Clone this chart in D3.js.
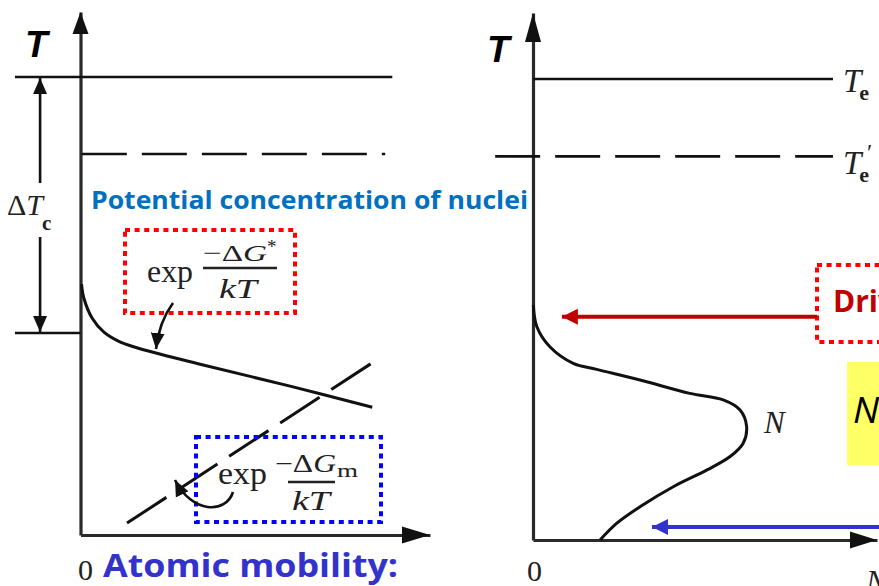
<!DOCTYPE html>
<html>
<head>
<meta charset="utf-8">
<script src="https://cdn.jsdelivr.net/npm/d3@7"></script>
<style>
    body { margin: 0; background: #fff; }
    svg { display: block; }
    .serif { font-family: "Liberation Serif", "DejaVu Serif", serif; }
    .bold-sans { font-family: "Open Sans", "Noto Sans", sans-serif; font-weight: bold; }
</style>
</head>
<body>
<div id="chart"></div>
<script>
// Temperature levels, in units where Te = 10
const tempLevels = [
    { name: "Te", T: 10, dashed: false },
    { name: "Te'", T: 8.32, dashed: true }
];
// temperature where nucleation starts (Te - ΔTc)
const criticalT = 4.41;

// potential concentration of nuclei, exp(-ΔG*/kT): [x, T]
const nucleiConc = [
    [0.03, 5.48], [0.10, 5.17], [0.34, 4.74], [0.69, 4.43], [1.10, 4.24],
    [1.61, 4.10], [3.52, 3.73], [6.17, 3.25], [8.59, 2.79]
];
// atomic mobility, exp(-ΔGm/kT): [x, T]
const atomicMobility = [[1.37, 0.26], [8.59, 3.76]];

// nucleation rate N: [x, T]
const nucleationRate = [
    [0.01, 5.10], [0.11, 4.63], [0.49, 4.19], [1.17, 3.83], [1.85, 3.70],
    [3.11, 3.47], [4.56, 3.18], [5.53, 3.04], [6.02, 2.82], [6.21, 2.46],
    [6.11, 2.10], [5.73, 1.81], [5.06, 1.52], [4.09, 1.16], [3.11, 0.72],
    [2.43, 0.36], [1.95, 0]
];

// x extents of the temperature lines (left panel / right panel)
const leftLineSpan = { "Te": [-1.93, 9.18], "Te'": [0.04, 8.97] };
const rightLineSpan = { "Te": [0, 8.72], "Te'": [-1.10, 8.72] };

const W = 879, H = 586;
const svg = d3.select("#chart").append("svg")
    .attr("width", W).attr("height", H);
svg.append("rect").attr("width", W).attr("height", H).attr("fill", "#fff");

const defs = svg.append("defs");
function marker(id, color, len, half) {
    defs.append("marker")
        .attr("id", id)
        .attr("markerUnits", "userSpaceOnUse")
        .attr("markerWidth", len + 2).attr("markerHeight", half * 2 + 2)
        .attr("refX", len).attr("refY", half + 1)
        .attr("orient", "auto")
        .append("path")
        .attr("d", `M0,1 L${len},${half + 1} L0,${half * 2 + 1} Z`)
        .attr("fill", color);
}
marker("headBlack", "#111", 16, 7);
marker("headRed", "#c00000", 16, 8);
marker("headBlue", "#3333cc", 16, 8);

// ---------- scales ----------
const xL = d3.scaleLinear().domain([0, 10.29]).range([80.5, 430]);
const yL = d3.scaleLinear().domain([0, 11.42]).range([535, 12]);
const xR = d3.scaleLinear().domain([0, 10]).range([533, 877]);
const yR = d3.scaleLinear().domain([0, 11.43]).range([540, 13]);

// axes without ticks, plus triangle arrowheads
function drawAxes(g, x, y, yHead, xHead) {
    const [x0] = x.range(), [y0, yTop] = y.range(), xEnd = x.range()[1];
    g.append("g").attr("transform", `translate(${x0},0)`)
        .call(d3.axisLeft(y).tickValues([]).tickSizeOuter(0))
        .select(".domain").attr("stroke", "#2a2a2a").attr("stroke-width", 3.2);
    g.append("g").attr("transform", `translate(0,${y0})`)
        .call(d3.axisBottom(x).tickValues([]).tickSizeOuter(0))
        .select(".domain").attr("stroke", "#2a2a2a").attr("stroke-width", 3.2);
    g.append("path")
        .attr("d", `M${x0},${yTop} L${x0 - 8},${yTop + yHead} L${x0 + 8},${yTop + yHead} Z`)
        .attr("fill", "#111");
    g.append("path")
        .attr("d", `M${xEnd},${y0} L${xEnd - xHead},${y0 - 8.5} L${xEnd - xHead},${y0 + 8.5} Z`)
        .attr("fill", "#111");
}

const left = svg.append("g");
const right = svg.append("g");
drawAxes(left, xL, yL, 22, 28);
drawAxes(right, xR, yR, 29, 27);

// ---------- temperature lines ----------
tempLevels.forEach(t => {
    const sl = leftLineSpan[t.name], sr = rightLineSpan[t.name];
    left.append("line")
        .attr("x1", xL(sl[0])).attr("x2", xL(sl[1]))
        .attr("y1", yL(t.T)).attr("y2", yL(t.T))
        .attr("stroke", "#111").attr("stroke-width", 2.6)
        .attr("stroke-dasharray", t.dashed ? "45,15" : null);
    right.append("line")
        .attr("x1", xR(sr[0])).attr("x2", xR(sr[1]))
        .attr("y1", yR(t.T)).attr("y2", yR(t.T))
        .attr("stroke", "#111").attr("stroke-width", 2.6)
        .attr("stroke-dasharray", t.dashed ? "45,15" : null);
});

// ΔTc dimension line
const dimX = xL(-1.19);
left.append("line")
    .attr("x1", xL(-1.93)).attr("x2", xL(0))
    .attr("y1", yL(criticalT)).attr("y2", yL(criticalT))
    .attr("stroke", "#111").attr("stroke-width", 2.6);
left.append("line")
    .attr("x1", dimX).attr("x2", dimX)
    .attr("y1", 183).attr("y2", yL(10) + 1)
    .attr("stroke", "#111").attr("stroke-width", 2.6)
    .attr("marker-end", "url(#headBlack)");
left.append("line")
    .attr("x1", dimX).attr("x2", dimX)
    .attr("y1", 237).attr("y2", yL(criticalT) - 1)
    .attr("stroke", "#111").attr("stroke-width", 2.6)
    .attr("marker-end", "url(#headBlack)");

const dT = left.append("text").attr("class", "serif").attr("x", 7).attr("y", 215)
    .attr("font-size", 30).attr("fill", "#222");
dT.append("tspan").text("Δ");
dT.append("tspan").attr("font-style", "italic").text("T");
dT.append("tspan").attr("font-size", 21).attr("font-weight", "bold").attr("dy", 15).attr("dx", -1).text("c");

// ---------- curves ----------
const lineL = d3.line().x(d => xL(d[0])).y(d => yL(d[1])).curve(d3.curveCatmullRom.alpha(0.5));
left.append("path").datum(nucleiConc)
    .attr("d", lineL).attr("fill", "none")
    .attr("stroke", "#111").attr("stroke-width", 3);
left.append("path").datum(atomicMobility)
    .attr("d", d3.line().x(d => xL(d[0])).y(d => yL(d[1])))
    .attr("fill", "none").attr("stroke", "#111").attr("stroke-width", 3)
    .attr("stroke-dasharray", "47,14");

const lineR = d3.line().x(d => xR(d[0])).y(d => yR(d[1])).curve(d3.curveCatmullRom.alpha(0.5));
right.append("path").datum(nucleationRate)
    .attr("d", lineR).attr("fill", "none")
    .attr("stroke", "#111").attr("stroke-width", 3);

// ---------- annotation boxes (left) ----------
left.append("rect")
    .attr("x", 125).attr("y", 230).attr("width", 170).attr("height", 83)
    .attr("fill", "none").attr("stroke", "#ff0000").attr("stroke-width", 4)
    .attr("stroke-dasharray", "5,4.6");
left.append("rect")
    .attr("x", 196).attr("y", 437).attr("width", 185).attr("height", 85)
    .attr("fill", "none").attr("stroke", "#0000ff").attr("stroke-width", 4)
    .attr("stroke-dasharray", "5,4.6");

// exp(-ΔG*/kT)
const f1 = left.append("g").attr("class", "serif").attr("fill", "#222");
f1.append("text").attr("x", 147).attr("y", 282).attr("font-size", 31)
    .attr("textLength", 46).attr("lengthAdjust", "spacingAndGlyphs").text("exp");
const n1 = f1.append("text").attr("x", 203).attr("y", 261).attr("font-size", 24)
    .attr("textLength", 64).attr("lengthAdjust", "spacingAndGlyphs");
n1.append("tspan").text("−Δ");
n1.append("tspan").attr("font-style", "italic").text("G");
f1.append("text").attr("x", 267).attr("y", 253).attr("font-size", 19).text("*");
f1.append("line").attr("x1", 203).attr("x2", 277).attr("y1", 268).attr("y2", 268)
    .attr("stroke", "#222").attr("stroke-width", 2.5);
f1.append("text").attr("x", 219).attr("y", 298).attr("font-size", 27).attr("font-style", "italic")
    .attr("textLength", 38).attr("lengthAdjust", "spacingAndGlyphs").text("kT");

// exp(-ΔGm/kT)
const f2 = left.append("g").attr("class", "serif").attr("fill", "#222");
f2.append("text").attr("x", 218).attr("y", 484).attr("font-size", 31)
    .attr("textLength", 49).attr("lengthAdjust", "spacingAndGlyphs").text("exp");
const n2 = f2.append("text").attr("x", 275).attr("y", 472).attr("font-size", 25)
    .attr("textLength", 61).attr("lengthAdjust", "spacingAndGlyphs");
n2.append("tspan").text("−Δ");
n2.append("tspan").attr("font-style", "italic").text("G");
f2.append("text").attr("x", 337).attr("y", 477).attr("font-size", 19)
    .attr("textLength", 21).attr("lengthAdjust", "spacingAndGlyphs").text("m");
f2.append("line").attr("x1", 288).attr("x2", 335).attr("y1", 482).attr("y2", 482)
    .attr("stroke", "#222").attr("stroke-width", 2.5);
f2.append("text").attr("x", 292).attr("y", 510).attr("font-size", 28).attr("font-style", "italic")
    .attr("textLength", 38).attr("lengthAdjust", "spacingAndGlyphs").text("kT");

// pointer arrows
left.append("path").attr("d", "M173,303 Q159,322 156,349")
    .attr("fill", "none").attr("stroke", "#111").attr("stroke-width", 2.6)
    .attr("marker-end", "url(#headBlack)");
left.append("path").attr("d", "M233,492 C226,514 192,514 175,480")
    .attr("fill", "none").attr("stroke", "#111").attr("stroke-width", 2.6)
    .attr("marker-end", "url(#headBlack)");

// ---------- labels (left) ----------
left.append("text").attr("x", 25).attr("y", 57)
    .attr("font-family", "Liberation Sans, Arial, sans-serif")
    .attr("font-weight", "bold").attr("font-style", "italic")
    .attr("font-size", 37).attr("fill", "#000").text("T");
left.append("text").attr("class", "bold-sans").attr("x", 91).attr("y", 209)
    .attr("font-size", 25).attr("fill", "#0070c0")
    .attr("textLength", 437).attr("lengthAdjust", "spacingAndGlyphs")
    .text("Potential concentration of nuclei");
left.append("text").attr("class", "serif").attr("x", 78).attr("y", 580)
    .attr("font-size", 30).attr("fill", "#222").text("0");
left.append("text").attr("class", "bold-sans").attr("x", 103).attr("y", 577)
    .attr("font-size", 33).attr("fill", "#3333cc")
    .attr("textLength", 295).attr("lengthAdjust", "spacingAndGlyphs")
    .text("Atomic mobility:");

// ---------- right panel annotations ----------
right.append("text").attr("x", 487).attr("y", 62)
    .attr("font-family", "Liberation Sans, Arial, sans-serif")
    .attr("font-weight", "bold").attr("font-style", "italic")
    .attr("font-size", 37).attr("fill", "#000").text("T");

const te = right.append("text").attr("class", "serif").attr("x", 843).attr("y", yR(10) + 13)
    .attr("font-size", 33).attr("fill", "#222");
te.append("tspan").attr("font-style", "italic").text("T");
te.append("tspan").attr("font-size", 22).attr("font-weight", "bold").attr("dx", -2).attr("dy", 8).text("e");
const te2 = right.append("text").attr("class", "serif").attr("x", 843).attr("y", yR(8.32) + 18)
    .attr("font-size", 33).attr("fill", "#222");
te2.append("tspan").attr("font-style", "italic").text("T");
te2.append("tspan").attr("font-size", 22).attr("font-weight", "bold").attr("dx", -2).attr("dy", 8).text("e");
right.append("text").attr("class", "serif").attr("x", 867).attr("y", yR(8.32) + 4)
    .attr("font-size", 24).attr("fill", "#222").text("′");

right.append("text").attr("class", "serif").attr("x", 764).attr("y", 433)
    .attr("font-size", 31).attr("font-style", "italic").attr("fill", "#222").text("N");
right.append("text").attr("class", "serif").attr("x", 527).attr("y", 581)
    .attr("font-size", 30).attr("fill", "#222").text("0");
right.append("text").attr("class", "serif").attr("x", 866).attr("y", 592)
    .attr("font-size", 31).attr("font-style", "italic").attr("fill", "#222").text("N");

// driving force box + arrow
right.append("rect")
    .attr("x", 817).attr("y", 265).attr("width", 90).attr("height", 77)
    .attr("fill", "none").attr("stroke", "#ff0000").attr("stroke-width", 4)
    .attr("stroke-dasharray", "5,4.6");
right.append("text").attr("class", "bold-sans").attr("x", 833).attr("y", 312)
    .attr("font-size", 30).attr("fill", "#c00000").text("Driving force");
right.append("line")
    .attr("x1", xR(8.26)).attr("x2", xR(0.84))
    .attr("y1", yR(4.84)).attr("y2", yR(4.84))
    .attr("stroke", "#c00000").attr("stroke-width", 4)
    .attr("marker-end", "url(#headRed)");

// highlighted N box
right.append("rect")
    .attr("x", 847).attr("y", 362).attr("width", 60).attr("height", 103)
    .attr("fill", "#ffff66");
right.append("text").attr("x", 853).attr("y", 423)
    .attr("font-family", "Open Sans, Noto Sans, sans-serif").attr("font-style", "italic")
    .attr("font-size", 37).attr("fill", "#000").text("N");

// mobility arrow
right.append("line")
    .attr("x1", xR(10.1)).attr("x2", xR(3.46))
    .attr("y1", yR(0.28)).attr("y2", yR(0.28))
    .attr("stroke", "#3333cc").attr("stroke-width", 4)
    .attr("marker-end", "url(#headBlue)");
</script>
</body>
</html>
